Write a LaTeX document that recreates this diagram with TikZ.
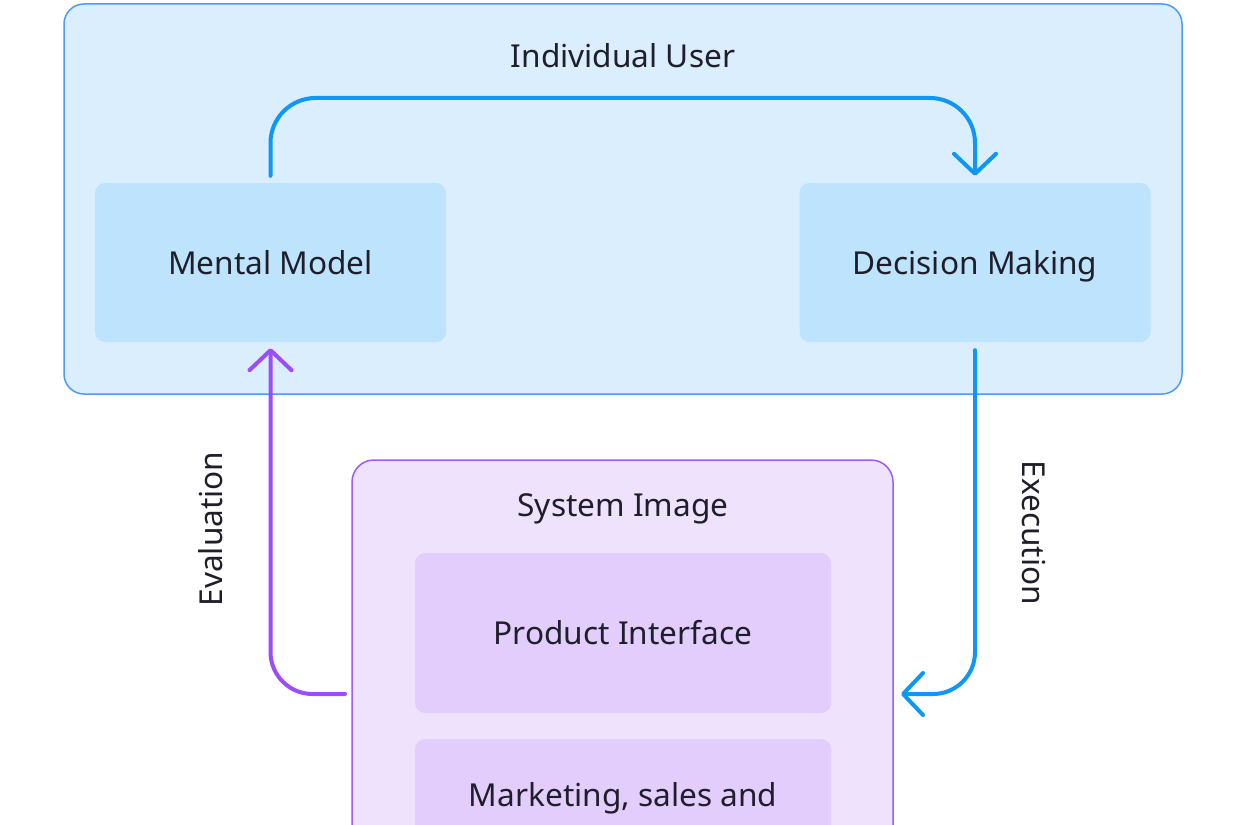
\documentclass[tikz,border=0pt]{standalone}
\usepackage{fontspec}
\setmainfont{Noto Sans}
\usetikzlibrary{arrows.meta,calc}
\definecolor{outerfill}{HTML}{DBEEFD}
\definecolor{outerdraw}{HTML}{4D9CF2}
\definecolor{innerblue}{HTML}{BEE3FC}
\definecolor{arrowblue}{HTML}{0E97F6}
\definecolor{arrowpurple}{HTML}{9B4DFB}
\definecolor{sysfill}{HTML}{EFE2FD}
\definecolor{sysdraw}{HTML}{9D5DF2}
\definecolor{innerpurple}{HTML}{E3CDFC}
\definecolor{txt}{HTML}{1F1F2B}
\tikzset{
  lbl/.style={text=txt, font=\fontsize{31.6}{38}\selectfont, inner sep=0pt, text height=0.714em, text depth=0pt},
  outerbox/.style={draw=outerdraw, fill=outerfill, line width=1.5pt, rounded corners=20pt, inner sep=0pt},
  bluebox/.style={fill=innerblue, rounded corners=10pt, minimum width=351pt, minimum height=159pt, inner sep=0pt},
  sysbox/.style={draw=sysdraw, fill=sysfill, line width=1.5pt, rounded corners=22pt, inner sep=0pt},
  purplebox/.style={fill=innerpurple, rounded corners=10pt, minimum width=416pt, minimum height=160pt, inner sep=0pt},
  conn/.style={line width=4pt, line cap=round, line join=round, -{Straight Barb[length=20pt,width=42pt,round]}},
}
\begin{document}
\begin{tikzpicture}[x=1pt,y=-1pt]
\useasboundingbox (0,0) rectangle (1236,824);
\clip (0,0) rectangle (1236,824);
\fill[white] (0,0) rectangle (1236,824);
% outer box
\node[outerbox, minimum width=1118pt, minimum height=390pt] (ou) at (623,199) {};
\node[lbl] (ul) at (623,64) {Individual User};
\node[bluebox] (mm) at (270.5,262.5) {};
\node[lbl] (mmt) at (270.5,271) {Mental Model};
\node[bluebox] (dm) at (975,262.5) {};
\node[lbl] (dmt) at (975,271) {Decision Making};
% system image
\node[sysbox, minimum width=541pt, minimum height=500pt] (si) at (622.5,710) {};
\node[lbl] (sl) at (623,512.5) {System Image};
\node[purplebox] (pi) at (623,633) {};
\node[lbl] (pit) at (623,641) {Product Interface};
\node[purplebox] (mk) at (623,819) {};
\node[lbl] (mkt) at (623,803) {Marketing, sales and};
% connectors
\coordinate (a0) at ($(mm.north)+(0,-7)$);
\coordinate (a1) at ($(dm.north)+(0,-7)$);
\draw[conn, arrowblue, rounded corners=45pt] (a0) -- (a0 |- 0,98) -- (a1 |- 0,98) -- (a1);
\coordinate (e0) at ($(dm.south)+(0,8)$);
\coordinate (e1) at (901,694);
\draw[conn, arrowblue, rounded corners=42pt] (e0) -- (e0 |- e1) -- (e1);
\coordinate (v0) at (345,694);
\coordinate (v1) at ($(mm.south)+(0,6)$);
\draw[conn, arrowpurple, rounded corners=42pt] (v0) -- (v0 -| v1) -- (v1);
\node[lbl, rotate=90] (ev) at (218.5,529) {Evaluation};
\node[lbl, rotate=-90] (ex) at (1026,533) {Execution};
\end{tikzpicture}
\end{document}
